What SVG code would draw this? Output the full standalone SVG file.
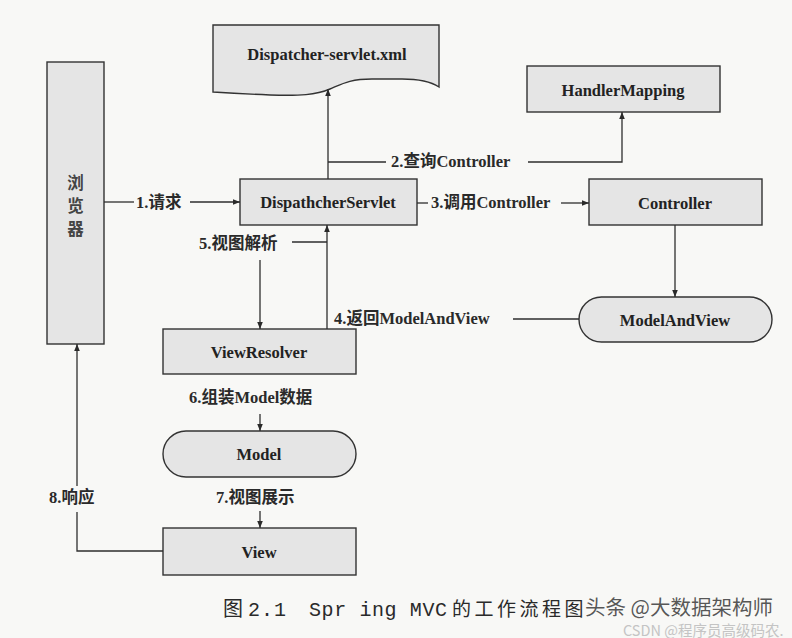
<svg xmlns="http://www.w3.org/2000/svg" width="792" height="638" viewBox="0 0 792 638">
  <defs>
    <marker id="ah" viewBox="0 0 10 10" refX="10" refY="5" markerWidth="7" markerHeight="7" markerUnits="userSpaceOnUse" orient="auto">
      <path d="M0,1 L10,5 L0,9 Z" fill="#2a2a2a"/>
    </marker>
  </defs>
  <style>
    .box { fill: #e5e5e5; stroke: #333; stroke-width: 1.4; }
    .nt { font-family: "Liberation Serif", "Noto Sans CJK SC", serif; font-size: 16.5px; font-weight: bold; fill: #222; text-anchor: middle; dominant-baseline: central; }
    .lb { font-family: "Liberation Serif", "Noto Sans CJK SC", serif; font-size: 16.5px; font-weight: bold; fill: #2a2a2a; dominant-baseline: central; }
    .ln { fill: none; stroke: #2e2e2e; stroke-width: 1.3; }
    .arr { marker-end: url(#ah); }
  </style>
  <rect x="0" y="0" width="792" height="638" fill="#f8f8f6"/>

  <g id="browser">
    <rect class="box" x="47" y="62" width="57" height="282"/>
    <text class="nt" x="75.5" y="183" style="fill:#444">浏</text>
    <text class="nt" x="75.5" y="206" style="fill:#444">览</text>
    <text class="nt" x="75.5" y="229" style="fill:#444">器</text>
  </g>

  <g id="dispatcher-xml">
    <path class="box" d="M213,25 H439 V87 C430,81 418,79 402,79 H372 C350,79 342,84 330,89 C316,95 300,96 270,95 C245,94 228,93 213,92 Z"/>
    <text class="nt" x="327" y="54">Dispatcher-servlet.xml</text>
  </g>

  <g id="dispatcher-servlet">
    <rect class="box" x="240" y="179" width="177" height="46"/>
    <text class="nt" x="328" y="202.5">DispathcherServlet</text>
  </g>

  <g id="handler-mapping">
    <rect class="box" x="527" y="66" width="193" height="46"/>
    <text class="nt" x="623" y="90">HandlerMapping</text>
  </g>

  <g id="controller">
    <rect class="box" x="589" y="179" width="173" height="46"/>
    <text class="nt" x="675" y="203">Controller</text>
  </g>

  <g id="model-and-view">
    <rect class="box" x="579" y="297" width="193" height="45" rx="22.5" ry="22.5"/>
    <text class="nt" x="675" y="320">ModelAndView</text>
  </g>

  <g id="view-resolver">
    <rect class="box" x="163" y="329" width="193" height="45"/>
    <text class="nt" x="259" y="352">ViewResolver</text>
  </g>

  <g id="model">
    <rect class="box" x="163" y="431" width="193" height="46" rx="23" ry="23"/>
    <text class="nt" x="259" y="454">Model</text>
  </g>

  <g id="view">
    <rect class="box" x="163" y="528" width="193" height="47"/>
    <text class="nt" x="259" y="552">View</text>
  </g>

  <g id="connectors">
    <!-- 1 request -->
    <line class="ln" x1="104" y1="202" x2="134" y2="202"/>
    <line class="ln arr" x1="190" y1="202" x2="240" y2="202"/>
    <text class="lb" x="136" y="202">1.请求</text>

    <!-- to xml -->
    <line class="ln arr" x1="328" y1="179" x2="328" y2="89"/>

    <!-- 2 query controller -->
    <line class="ln" x1="328" y1="162" x2="386" y2="162"/>
    <text class="lb" x="391" y="161">2.查询Controller</text>
    <polyline class="ln arr" points="528,162 622,162 622,112"/>

    <!-- 3 call controller -->
    <line class="ln" x1="417" y1="203" x2="428" y2="203"/>
    <text class="lb" x="431" y="202">3.调用Controller</text>
    <line class="ln arr" x1="561" y1="203" x2="589" y2="203"/>

    <!-- controller to modelandview -->
    <line class="ln arr" x1="675" y1="225" x2="675" y2="297"/>

    <!-- 4 return ModelAndView -->
    <line class="ln" x1="579" y1="319" x2="513" y2="319"/>
    <text class="lb" x="334" y="318">4.返回ModelAndView</text>
    <line class="ln arr" x1="327" y1="329" x2="327" y2="225"/>

    <!-- 5 view resolve -->
    <text class="lb" x="199" y="243">5.视图解析</text>
    <line class="ln" x1="292" y1="242" x2="327" y2="242"/>
    <line class="ln arr" x1="260" y1="260" x2="260" y2="329"/>

    <!-- 6 assemble model -->
    <text class="lb" x="189" y="397">6.组装Model数据</text>
    <line class="ln arr" x1="260" y1="414" x2="260" y2="431"/>

    <!-- 7 view render -->
    <text class="lb" x="216" y="497">7.视图展示</text>
    <line class="ln arr" x1="260" y1="511" x2="260" y2="528"/>

    <!-- 8 response -->
    <polyline class="ln" points="163,551 77,551 77,512"/>
    <text class="lb" x="49" y="497">8.响应</text>
    <line class="ln arr" x1="77" y1="486" x2="77" y2="344"/>
  </g>

  <g id="caption" font-family="'Liberation Mono', 'Noto Sans CJK SC', monospace" font-size="20" fill="#2a2a2a">
    <text x="223" y="616">图</text>
    <text x="248" y="616" letter-spacing="1">2.1</text>
    <text x="309" y="616" letter-spacing="0.6">Spr ing MVC</text>
    <text x="452" y="616" letter-spacing="3.5" font-family="'Noto Sans CJK SC', sans-serif" font-size="19">的工作流程图</text>
  </g>

  <g id="watermark" font-family="'Noto Sans CJK SC', 'Noto Sans', sans-serif">
    <text x="585" y="615" font-size="20.5" fill="#3a3a3a" fill-opacity="0.85">头条 @大数据架构师</text>
    <text x="623" y="635.5" font-size="14.5" fill="#c4c4c4">CSDN @程序员高级码农.</text>
  </g>
</svg>
